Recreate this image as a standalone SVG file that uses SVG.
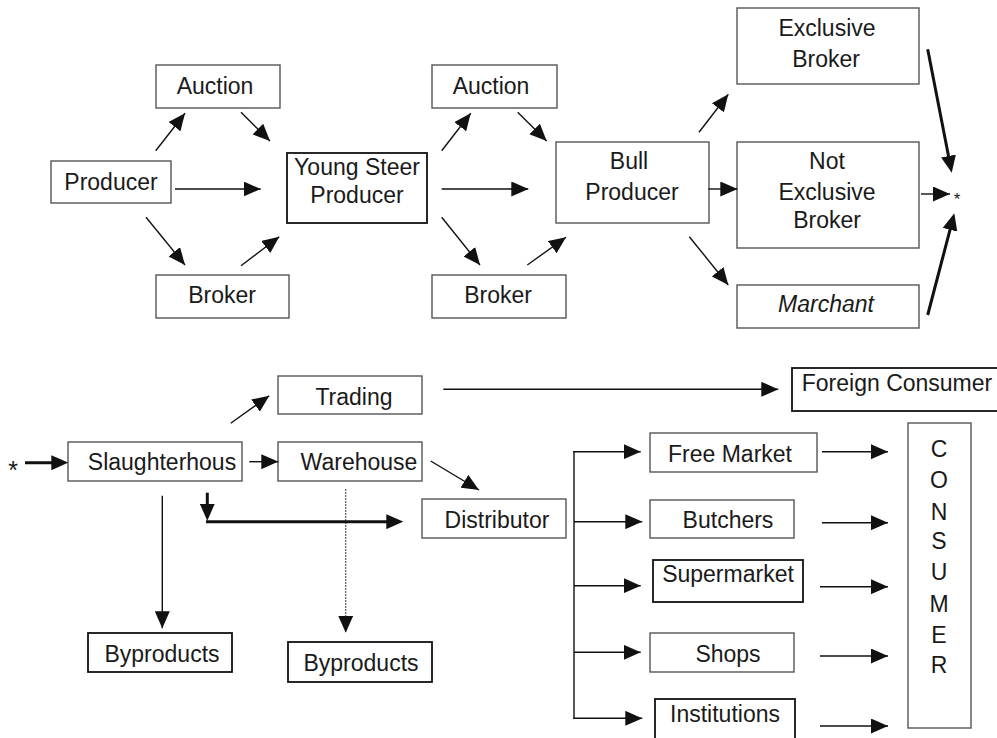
<svg xmlns="http://www.w3.org/2000/svg" width="997" height="738" viewBox="0 0 997 738">
<defs>
<style>
.box{fill:#fff;stroke:#555;stroke-width:1.4}
.dark{stroke:#111;stroke-width:1.8}
text{font-family:"Liberation Sans",Arial,sans-serif;font-size:23px;fill:#1a1a1a;text-anchor:middle}
.it{font-style:italic}
.ln{fill:none;stroke:#111;stroke-width:1.4;marker-end:url(#a)}
.thick{fill:none;stroke:#111;stroke-width:3;marker-end:url(#at)}
.dot{fill:none;stroke:#222;stroke-width:1.2;stroke-dasharray:1.5 1.5;marker-end:url(#a)}
.plain{fill:none;stroke:#111;stroke-width:1.4}
</style>
<marker id="a" markerUnits="userSpaceOnUse" markerWidth="17" markerHeight="15" refX="17" refY="7.5" orient="auto">
<path d="M0,0 L17,7.5 L0,15 z" fill="#111"/>
</marker>
<marker id="at" markerUnits="userSpaceOnUse" markerWidth="17" markerHeight="15" refX="11" refY="7.5" orient="auto">
<path d="M0,0 L17,7.5 L0,15 z" fill="#111"/>
</marker>
</defs>
<rect width="997" height="738" fill="#fff"/>

<g id="n-producer"><rect class="box" x="51" y="161" width="120" height="42"/><text x="111" y="190">Producer</text></g>
<g id="n-auction1"><rect class="box" x="156" y="65" width="124" height="43"/><text x="215" y="94">Auction</text></g>
<g id="n-broker1"><rect class="box" x="156" y="275" width="133" height="43"/><text x="222" y="303">Broker</text></g>
<g id="n-youngsteer"><rect class="box dark" x="287" y="153" width="140" height="70"/><text x="357" y="175">Young Steer</text><text x="357" y="203">Producer</text></g>
<g id="n-auction2"><rect class="box" x="432" y="65" width="125" height="43"/><text x="491" y="94">Auction</text></g>
<g id="n-broker2"><rect class="box" x="432" y="275" width="134" height="43"/><text x="498" y="303">Broker</text></g>
<g id="n-bull"><rect class="box" x="556" y="142" width="153" height="81"/><text x="629" y="169">Bull</text><text x="632" y="200">Producer</text></g>
<g id="n-exclusive"><rect class="box" x="737" y="8" width="182" height="76"/><text x="827" y="36">Exclusive</text><text x="826" y="67">Broker</text></g>
<g id="n-notexclusive"><rect class="box" x="737" y="142" width="182" height="106"/><text x="827" y="169">Not</text><text x="827" y="200">Exclusive</text><text x="827" y="228">Broker</text></g>
<g id="n-marchant"><rect class="box" x="737" y="285" width="182" height="43"/><text class="it" x="826" y="312">Marchant</text></g>
<g id="n-star1"><text x="957" y="205" style="font-size:17px">*</text></g>
<g id="n-star2"><text x="13" y="479" style="font-size:25px">*</text></g>

<g id="n-slaughter"><rect class="box" x="68" y="442" width="174" height="39"/><text x="162" y="470">Slaughterhous</text></g>
<g id="n-trading"><rect class="box" x="278" y="376" width="144" height="38"/><text x="354" y="405">Trading</text></g>
<g id="n-warehouse"><rect class="box" x="278" y="442" width="144" height="39"/><text x="359" y="470">Warehouse</text></g>
<g id="n-foreign"><rect class="box dark" x="792" y="368" width="210" height="43"/><text x="897" y="391">Foreign Consumer</text></g>
<g id="n-distributor"><rect class="box" x="422" y="499" width="144" height="39"/><text x="497" y="528">Distributor</text></g>
<g id="n-byproducts1"><rect class="box dark" x="88" y="633" width="144" height="39"/><text x="162" y="662">Byproducts</text></g>
<g id="n-byproducts2"><rect class="box dark" x="288" y="642" width="144" height="40"/><text x="361" y="671">Byproducts</text></g>
<g id="n-freemarket"><rect class="box" x="650" y="433" width="167" height="39"/><text x="730" y="462">Free Market</text></g>
<g id="n-butchers"><rect class="box" x="650" y="500" width="144" height="38"/><text x="728" y="528">Butchers</text></g>
<g id="n-supermarket"><rect class="box dark" x="653" y="560" width="150" height="42"/><text x="728" y="582">Supermarket</text></g>
<g id="n-shops"><rect class="box" x="650" y="633" width="144" height="39"/><text x="728" y="662">Shops</text></g>
<g id="n-institutions"><rect class="box dark" x="655" y="699" width="140" height="50"/><text x="725" y="722">Institutions</text></g>
<g id="n-consumer"><rect class="box" x="908" y="423" width="63" height="305"/>
<text x="939" y="457">C</text><text x="939" y="488">O</text><text x="939" y="520">N</text><text x="939" y="549">S</text><text x="939" y="580">U</text><text x="939" y="612">M</text><text x="939" y="643">E</text><text x="939" y="673">R</text></g>

<g id="connectors">
<line class="ln" x1="155.7" y1="150.7" x2="185" y2="113.3"/>
<line class="ln" x1="241" y1="112.3" x2="270" y2="141"/>
<line class="ln" x1="175" y1="189" x2="260.7" y2="189"/>
<line class="ln" x1="146" y1="217.3" x2="185" y2="265"/>
<line class="ln" x1="241" y1="265.7" x2="279.3" y2="236.7"/>
<line class="ln" x1="441.7" y1="150.7" x2="470.7" y2="113.3"/>
<line class="ln" x1="517.7" y1="112.3" x2="546.7" y2="141"/>
<line class="ln" x1="441.7" y1="189" x2="528.3" y2="189"/>
<line class="ln" x1="441.7" y1="217.3" x2="480" y2="265"/>
<line class="ln" x1="527.3" y1="265" x2="566" y2="237.3"/>
<line class="ln" x1="699" y1="132.3" x2="728.3" y2="94.3"/>
<line class="ln" x1="708.3" y1="189" x2="737.3" y2="189"/>
<line class="ln" x1="689.3" y1="236.7" x2="728.3" y2="285"/>
<line class="ln" x1="921" y1="194" x2="950" y2="194"/>
<line class="thick" x1="927.7" y1="49.3" x2="950.6" y2="166.8"/>
<line class="thick" x1="927.7" y1="315" x2="952.8" y2="219.1"/>
<line class="thick" x1="25" y1="462.7" x2="62.3" y2="462.7"/>
<line class="thick" x1="207.3" y1="492.7" x2="207.3" y2="514.7"/>
<line class="thick" x1="206" y1="521.7" x2="397.3" y2="521.7"/>
<line class="ln" x1="230.7" y1="423.3" x2="269.3" y2="395.7"/>
<line class="ln" x1="249.3" y1="461.7" x2="278.3" y2="461.7"/>
<line class="ln" x1="162.3" y1="495.7" x2="162.3" y2="628.3"/>
<line class="dot" x1="345.7" y1="489.3" x2="345.7" y2="632.7"/>
<line class="ln" x1="443.3" y1="389.3" x2="778.3" y2="389.3"/>
<line class="ln" x1="430.7" y1="461" x2="479" y2="490"/>
<line class="plain" x1="574" y1="451" x2="574" y2="719"/>
<line class="ln" x1="573.3" y1="451.7" x2="640.7" y2="451.7"/>
<line class="ln" x1="574" y1="521.7" x2="642.3" y2="521.7"/>
<line class="ln" x1="574" y1="585.7" x2="640.7" y2="585.7"/>
<line class="ln" x1="574" y1="652.3" x2="640.7" y2="652.3"/>
<line class="ln" x1="573.3" y1="718.3" x2="642.3" y2="718.3"/>
<line class="ln" x1="822" y1="451.7" x2="888" y2="451.7"/>
<line class="ln" x1="822" y1="522.7" x2="888" y2="522.7"/>
<line class="ln" x1="820" y1="586.7" x2="888" y2="586.7"/>
<line class="ln" x1="820" y1="656" x2="888" y2="656"/>
<line class="ln" x1="820" y1="726" x2="888" y2="726"/>
</g>
</svg>
